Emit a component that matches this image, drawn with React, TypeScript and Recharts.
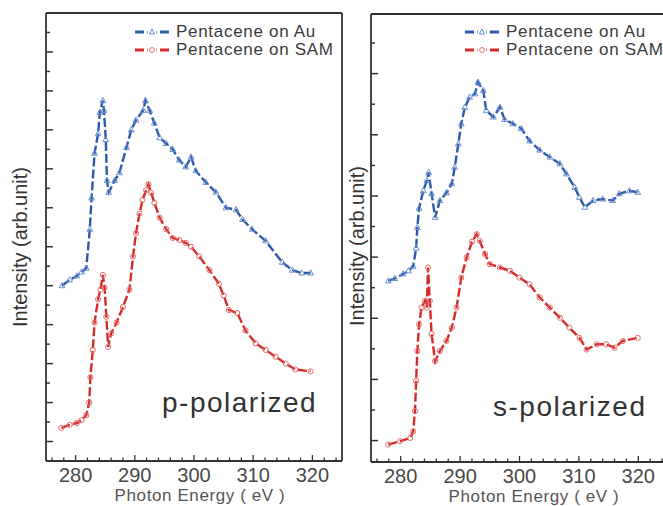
import React from "react";
import { LineChart, Line, XAxis, YAxis, ReferenceLine, Legend } from "recharts";

// photon energy (eV) and intensity (arb. unit)
const pAuEnergy = [277.7, 279.0, 280.2, 281.0, 281.8, 282.4, 282.7, 283.2, 283.8, 284.1, 284.6, 284.8, 285.1, 285.3, 285.6, 286.6, 287.4, 288.6, 289.4, 290.2, 291.4, 291.8, 292.5, 293.3, 294.2, 295.3, 296.4, 297.5, 298.6, 299.5, 300.3, 302.0, 303.7, 305.4, 307.1, 308.2, 309.8, 312.1, 314.9, 316.6, 318.2, 319.7];
const pAuIntensity = [9.0, 9.3, 9.5, 9.7, 9.9, 11.9, 13.5, 15.8, 16.8, 17.9, 18.5, 18.0, 16.5, 14.4, 13.8, 14.4, 14.8, 16.1, 17.0, 17.5, 18.0, 18.5, 18.0, 17.35, 16.6, 16.3, 16.0, 15.45, 15.1, 15.6, 14.9, 14.3, 13.8, 13.0, 12.9, 12.4, 11.9, 11.3, 10.2, 9.8, 9.65, 9.65];

const pSamEnergy = [277.6, 279.0, 280.2, 281.0, 281.8, 282.3, 282.5, 282.9, 283.2, 283.8, 284.2, 284.6, 284.9, 285.2, 285.5, 286.0, 286.9, 288.0, 289.1, 289.7, 290.2, 290.8, 291.3, 291.9, 292.3, 292.8, 293.3, 294.2, 295.3, 296.4, 297.5, 298.6, 299.5, 300.9, 302.6, 304.2, 305.0, 305.9, 307.3, 308.7, 310.4, 312.1, 313.8, 315.5, 317.1, 319.7];
const pSamIntensity = [1.7, 1.85, 1.95, 2.1, 2.35, 3.0, 4.3, 5.7, 7.1, 8.3, 8.8, 9.55, 8.9, 7.4, 5.85, 6.55, 7.1, 7.9, 8.8, 10.5, 11.7, 12.7, 13.4, 13.9, 14.2, 13.75, 13.25, 12.5, 11.9, 11.45, 11.35, 11.2, 11.0, 10.5, 9.8, 9.1, 8.5, 7.75, 7.6, 6.7, 6.05, 5.7, 5.35, 5.0, 4.7, 4.6];

const sAuEnergy = [277.9, 279.0, 280.4, 281.3, 282.1, 282.6, 282.8, 283.1, 283.8, 284.4, 284.7, 285.2, 285.8, 286.6, 287.7, 288.6, 289.1, 289.7, 290.2, 290.8, 291.6, 292.5, 293.0, 293.9, 294.4, 295.6, 296.7, 297.5, 298.9, 300.3, 301.7, 303.4, 305.1, 306.8, 307.9, 309.3, 310.1, 311.0, 312.4, 314.0, 315.7, 316.8, 318.5, 319.9];
const sAuIntensity = [5.22, 5.3, 5.45, 5.55, 5.7, 6.3, 6.97, 7.6, 8.17, 8.5, 8.77, 8.07, 7.3, 7.85, 8.1, 8.4, 8.94, 9.7, 10.36, 10.9, 11.23, 11.34, 11.72, 11.45, 10.8, 10.58, 10.9, 10.5, 10.36, 10.2, 9.8, 9.5, 9.27, 9.05, 8.72, 8.28, 7.95, 7.63, 7.85, 7.9, 7.85, 8.07, 8.17, 8.12];

const sSamEnergy = [277.9, 279.9, 281.6, 282.1, 282.4, 282.6, 282.8, 283.1, 283.5, 284.1, 284.4, 284.6, 284.9, 285.2, 285.8, 286.6, 287.7, 288.6, 289.4, 290.2, 291.1, 292.0, 292.8, 293.3, 294.2, 295.0, 296.7, 298.4, 300.0, 301.7, 303.4, 305.1, 306.8, 308.4, 310.1, 311.3, 313.0, 314.6, 316.0, 317.4, 319.9];
const sSamIntensity = [-0.13, -0.02, 0.085, 0.3, 0.96, 1.95, 2.93, 3.8, 4.35, 4.57, 4.35, 5.66, 4.57, 3.48, 2.6, 2.93, 3.26, 3.69, 4.35, 5.33, 5.99, 6.5, 6.75, 6.53, 6.1, 5.77, 5.66, 5.55, 5.33, 5.11, 4.68, 4.35, 4.02, 3.69, 3.36, 2.98, 3.15, 3.15, 3.04, 3.26, 3.36];

const energyTicks = [276, 278, 280, 282, 284, 286, 288, 290, 292, 294, 296, 298, 300, 302, 304, 306, 308, 310, 312, 314, 316, 318, 320, 322, 324];
const pIntensityTicks = [1, 2, 3, 4, 5, 6, 7, 8, 9, 10, 11, 12, 13, 14, 15, 16, 17, 18, 19, 20, 21, 22];
const sIntensityTicks = [0, 1, 2, 3, 4, 5, 6, 7, 8, 9, 10, 11, 12, 13];

const AU_NAME = "Pentacene on Au";
const SAM_NAME = "Pentacene on SAM";
const AU_LINE = "#2b5ba8";
const AU_MARK = "#6a8fd0";
const SAM_LINE = "#d62a2a";
const SAM_MARK = "#e46c6c";
const AXIS = "#333";

const toPoints = (e: number[], v: number[]) => e.map((x, i) => ({ e: x, v: v[i] }));

function TriangleDot(props: any) {
  const { cx, cy, index } = props;
  if (cx == null || cy == null) return null;
  return (
    <path
      key={`t${index}`}
      d={`M${cx},${cy - 3.2} L${cx + 2.9},${cy + 2} L${cx - 2.9},${cy + 2} Z`}
      fill="none"
      stroke={AU_MARK}
      strokeWidth={1}
    />
  );
}

function CircleDot(props: any) {
  const { cx, cy, index } = props;
  if (cx == null || cy == null) return null;
  return <circle key={`c${index}`} cx={cx} cy={cy} r={2.6} fill="none" stroke={SAM_MARK} strokeWidth={1} />;
}

function EnergyTick({ x, y, payload }: any) {
  const v = payload.value;
  const major = v % 10 === 0;
  return (
    <g>
      <line x1={x} x2={x} y1={y} y2={y - (major ? 6 : 3.5)} stroke={AXIS} strokeWidth={1.3} />
      {major && (
        <text x={x} y={y + 21} textAnchor="middle" fontSize={20} fill="#484848">
          {v}
        </text>
      )}
    </g>
  );
}

const intensityTick = (majorEven: boolean) =>
  function IntensityTick({ x, y, payload }: any) {
    const major = (payload.value % 2 === 0) === majorEven;
    return <line x1={x} x2={x + (major ? 7 : 4)} y1={y} y2={y} stroke={AXIS} strokeWidth={1.5} />;
  };

function PanelLegend() {
  const rows = [
    { name: AU_NAME, line: AU_LINE, tri: true },
    { name: SAM_NAME, line: SAM_LINE, tri: false },
  ];
  return (
    <div>
      {rows.map((r) => (
        <div key={r.name} style={{ display: "flex", alignItems: "center", height: 18, whiteSpace: "nowrap" }}>
          <svg width={36} height={10} style={{ marginRight: 6 }}>
            <line x1={1} x2={35} y1={5} y2={5} stroke={r.line} strokeWidth={3} strokeDasharray="9 3.5" />
            <rect x={14} y={0} width={8} height={10} fill="#fff" />
            {r.tri ? (
              <path d="M18,2 L20.6,7 L15.4,7 Z" fill="none" stroke={AU_MARK} strokeWidth={1} />
            ) : (
              <circle cx={18} cy={5} r={2.4} fill="none" stroke={SAM_MARK} strokeWidth={1} />
            )}
          </svg>
          <span style={{ fontSize: 17, letterSpacing: 0.7, color: "#3a3a3a" }}>{r.name}</span>
        </div>
      ))}
    </div>
  );
}

interface PanelProps {
  au: { e: number; v: number }[];
  sam: { e: number; v: number }[];
  yDomain: [number, number];
  yTicks: number[];
  majorEven: boolean;
  width: number;
  margin: { top: number; right: number; bottom: number; left: number };
  legendLeft: number;
}

function Panel({ au, sam, yDomain, yTicks, majorEven, width, margin, legendLeft }: PanelProps) {
  return (
    <LineChart width={width} height={506} margin={margin}>
      <XAxis
        type="number"
        dataKey="e"
        domain={[275, 325]}
        ticks={energyTicks}
        interval={0}
        allowDataOverflow
        height={1}
        tickSize={0}
        tickMargin={0}
        tickLine={false}
        tick={<EnergyTick />}
        axisLine={{ stroke: AXIS, strokeWidth: 1.8 }}
      />
      <YAxis
        type="number"
        domain={yDomain}
        ticks={yTicks}
        interval={0}
        allowDataOverflow
        width={1}
        tickSize={0}
        tickMargin={0}
        tickLine={false}
        tick={intensityTick(majorEven)}
        axisLine={{ stroke: AXIS, strokeWidth: 1.8 }}
      />
      <ReferenceLine y={yDomain[1]} stroke={AXIS} strokeWidth={1.8} />
      <ReferenceLine x={325} stroke={AXIS} strokeWidth={1.8} />
      <Legend
        layout="vertical"
        align="center"
        verticalAlign="middle"
        content={() => <PanelLegend />}
        wrapperStyle={{ left: legendLeft, top: 23, width: "auto" }}
      />
      <Line
        data={au}
        dataKey="v"
        name={AU_NAME}
        type="linear"
        stroke={AU_LINE}
        strokeWidth={2.4}
        strokeDasharray="9 3"
        dot={TriangleDot}
        activeDot={false}
        isAnimationActive={false}
      />
      <Line
        data={sam}
        dataKey="v"
        name={SAM_NAME}
        type="linear"
        stroke={SAM_LINE}
        strokeWidth={2.4}
        strokeDasharray="9 3"
        dot={CircleDot}
        activeDot={false}
        isAnimationActive={false}
      />
    </LineChart>
  );
}

const textBase: React.CSSProperties = {
  position: "absolute",
  whiteSpace: "nowrap",
  lineHeight: 1,
  color: "#333",
};

export default function App() {
  return (
    <div
      style={{
        position: "fixed",
        left: 0,
        top: 0,
        width: 663,
        height: 506,
        overflow: "hidden",
        background: "#fff",
        fontFamily: "'Liberation Sans', Arial, sans-serif",
      }}
    >
      <div style={{ position: "absolute", left: 0, top: 0 }}>
        <Panel
          au={toPoints(pAuEnergy, pAuIntensity)}
          sam={toPoints(pSamEnergy, pSamIntensity)}
          yDomain={[0, 23]}
          yTicks={pIntensityTicks}
          majorEven={false}
          width={400}
          margin={{ top: 13, right: 58, bottom: 44, left: 45 }}
          legendLeft={134}
        />
      </div>
      <div style={{ position: "absolute", left: 330, top: 0 }}>
        <Panel
          au={toPoints(sAuEnergy, sAuIntensity)}
          sam={toPoints(sSamEnergy, sSamIntensity)}
          yDomain={[-0.7, 13.95]}
          yTicks={sIntensityTicks}
          majorEven={true}
          width={360}
          margin={{ top: 14, right: 22, bottom: 43, left: 40 }}
          legendLeft={134}
        />
      </div>

      <div style={{ ...textBase, left: 20, top: 247, fontSize: 20, transform: "translate(-50%, -50%) rotate(-90deg)" }}>
        Intensity (arb.unit)
      </div>
      <div style={{ ...textBase, left: 357, top: 246, fontSize: 20, transform: "translate(-50%, -50%) rotate(-90deg)" }}>
        Intensity (arb.unit)
      </div>

      <div style={{ ...textBase, left: 200, top: 487, fontSize: 17, letterSpacing: 0.6, color: "#555", transform: "translateX(-50%)" }}>
        Photon Energy ( eV )
      </div>
      <div style={{ ...textBase, left: 534, top: 488, fontSize: 17, letterSpacing: 0.6, color: "#555", transform: "translateX(-50%)" }}>
        Photon Energy ( eV )
      </div>

      <div style={{ ...textBase, left: 162, top: 389, fontSize: 28, letterSpacing: 1.5 }}>p-polarized</div>
      <div style={{ ...textBase, left: 493, top: 393, fontSize: 28, letterSpacing: 1.5 }}>s-polarized</div>
    </div>
  );
}
